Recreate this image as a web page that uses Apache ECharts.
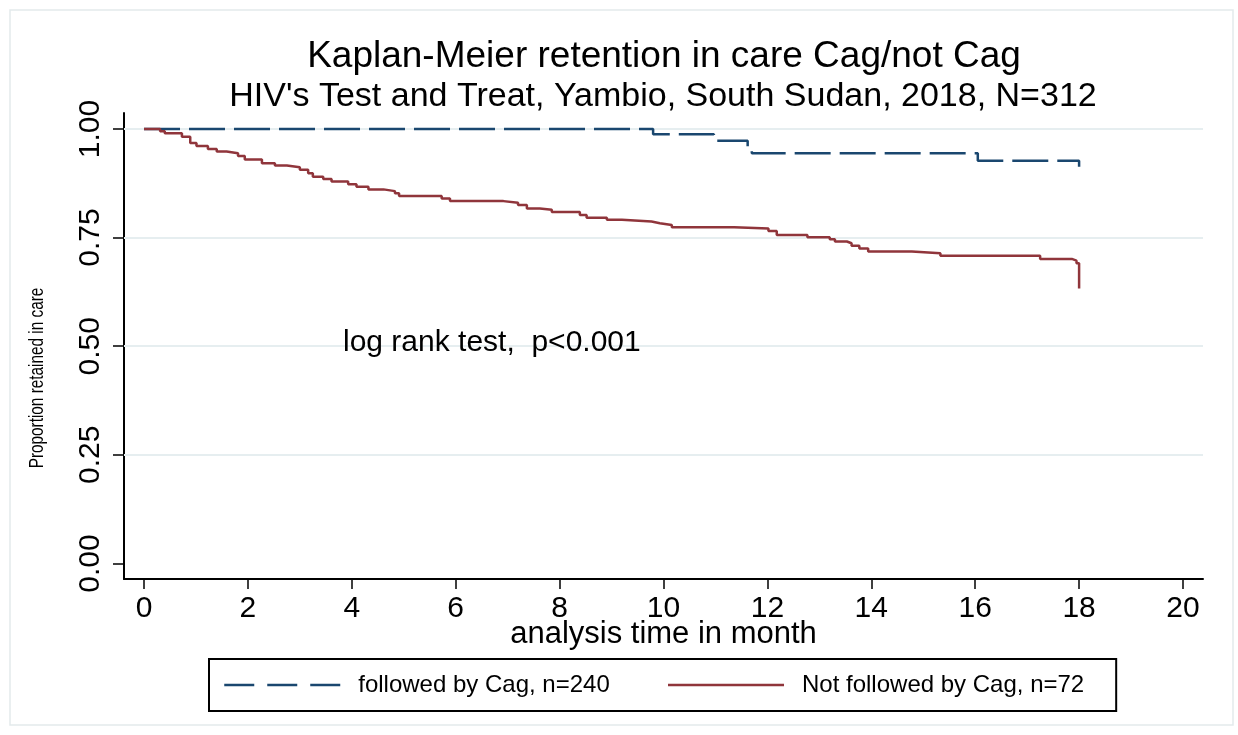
<!DOCTYPE html>
<html>
<head>
<meta charset="utf-8">
<script src="https://cdn.jsdelivr.net/npm/echarts@6/dist/echarts.min.js"></script>
<style>
  html, body { margin: 0; padding: 0; background: #ffffff; }
  #chart { width: 1238px; height: 735px; }
</style>
</head>
<body>
<div id="chart"></div>
<script>
// ---- data ----
const titleText = "Kaplan-Meier retention in care Cag/not Cag";
const subtitleText = "HIV's Test and Treat, Yambio, South Sudan, 2018, N=312";
const annotationText = "log rank test,  p<0.001";
const xAxisName = "analysis time in month";
const yAxisName = "Proportion retained in care";
const seriesNames = ["followed by Cag, n=240", "Not followed by Cag, n=72"];
const xTicks = [0, 2, 4, 6, 8, 10, 12, 14, 16, 18, 20];
const yTicks = [0, 0.25, 0.5, 0.75, 1];
const yGridValues = [0.25, 0.5, 0.75, 1];

// followed by Cag (blue, dashed)
const cagTime = [0, 9.80, 10.97, 11.62, 11.70, 16.05, 18.0];
const cagSurv = [1, 0.988, 0.973, 0.957, 0.944, 0.927, 0.913];

// not followed by Cag (red, solid)
const noCagTime = [0, 0.31, 0.40, 0.73, 0.89, 1.01, 1.23, 1.40, 1.59, 1.81, 1.94, 2.27, 2.52, 2.75,
  3.00, 3.16, 3.25, 3.45, 3.61, 3.93, 4.09, 4.32, 4.61, 4.83, 4.91, 5.73, 5.89, 6.92, 7.20, 7.37,
  7.62, 7.85, 8.39, 8.52, 8.91, 9.20, 9.77, 9.93, 10.16, 11.36, 12.02, 12.18, 12.77, 13.20, 13.30,
  13.53, 13.62, 13.77, 13.94, 14.78, 15.33, 17.25, 17.86, 17.95, 18.00];
const noCagSurv = [1, 0.995, 0.990, 0.982, 0.968, 0.961, 0.954, 0.948, 0.944, 0.938, 0.930, 0.921, 0.916, 0.912,
  0.906, 0.898, 0.890, 0.885, 0.879, 0.873, 0.867, 0.861, 0.857, 0.852, 0.846, 0.840, 0.834, 0.830, 0.825, 0.817,
  0.814, 0.809, 0.802, 0.796, 0.791, 0.787, 0.783, 0.779, 0.774, 0.771, 0.765, 0.756, 0.751, 0.746, 0.741,
  0.737, 0.731, 0.725, 0.718, 0.714, 0.708, 0.701, 0.697, 0.691, 0.633];

// ---- chart ----
const FONT = "'Liberation Sans', Arial, Helvetica, sans-serif";
const BLUE = '#1a476f';
const RED = '#90353b';

const zip = (a, b) => a.map((v, i) => [v, b[i]]);

const chart = echarts.init(document.getElementById('chart'), null, { renderer: 'canvas' });

const option = {
  backgroundColor: '#ffffff',
  animation: false,
  graphic: [
    {
      type: 'rect', z: 0,
      shape: { x: 10, y: 10, width: 1223, height: 715 },
      style: { fill: 'none', stroke: '#e3eaec', lineWidth: 1.5 },
      silent: true
    },
    {
      type: 'text', z: 10,
      x: 37, y: 378, rotation: Math.PI / 2, scaleX: 0.73,
      style: {
        text: yAxisName, font: "21px 'Liberation Sans', Arial, sans-serif",
        fill: '#000', align: 'center', verticalAlign: 'middle'
      },
      silent: true
    }
  ],
  title: [
    { text: titleText, left: 659, top: 33, textAlign: 'center',
      textStyle: { fontFamily: FONT, fontSize: 37, fontWeight: 'normal', color: '#000' } },
    { text: subtitleText, left: 658, top: 75, textAlign: 'center',
      textStyle: { fontFamily: FONT, fontSize: 34, fontWeight: 'normal', color: '#000' } },
    { text: annotationText, left: 338, top: 323,
      textStyle: { fontFamily: FONT, fontSize: 30, fontWeight: 'normal', color: '#000' } }
  ],
  legend: {
    show: true,
    left: 209, top: 659,
    orient: 'horizontal',
    itemWidth: 116, itemHeight: 24, itemGap: 57,
    padding: [14, 32, 14, 14],
    borderColor: '#000', borderWidth: 2,
    backgroundColor: '#fff',
    textStyle: { fontFamily: FONT, fontSize: 24, color: '#000', padding: [0, 0, 0, 13] },
    data: [
      { name: seriesNames[0], itemStyle: { opacity: 0 },
        lineStyle: { color: BLUE, width: 2.5, type: [30, 13], opacity: 1 } },
      { name: seriesNames[1], itemStyle: { opacity: 0 },
        lineStyle: { color: RED, width: 2.5, type: 'solid', opacity: 1 } }
    ]
  },
  grid: { left: 124, right: 35, top: 113, bottom: 156, containLabel: false },
  xAxis: {
    type: 'value', min: -0.385, max: 20.385,
    axisLine: { show: true, onZero: false, lineStyle: { color: '#000', width: 2 } },
    axisTick: { show: true, customValues: xTicks, length: 10, lineStyle: { color: '#000', width: 1.5 } },
    axisLabel: { customValues: xTicks, margin: 15, fontFamily: FONT, fontSize: 30, color: '#000' },
    splitLine: { show: false },
    name: xAxisName, nameLocation: 'middle', nameGap: 40, nameMoveOverlap: false,
    nameTextStyle: { fontFamily: FONT, fontSize: 31, color: '#000' }
  },
  yAxis: {
    type: 'value', min: -0.0357, max: 1.0368,
    axisLine: { show: true, onZero: false, lineStyle: { color: '#000', width: 2 } },
    axisTick: { show: true, customValues: yTicks, length: 11, lineStyle: { color: '#000', width: 1.5 } },
    axisLabel: { customValues: yTicks, rotate: 90, margin: 18, fontFamily: FONT, fontSize: 30, color: '#000',
      formatter: v => v.toFixed(2) },
    splitLine: { show: false }
  },
  series: [
    {
      name: 'gridlines', type: 'line', data: [], silent: true, z: 1,
      markLine: {
        z: 1, silent: true, symbol: ['none', 'none'], label: { show: false },
        lineStyle: { color: '#e6eef0', width: 2, type: 'solid' },
        data: yGridValues.map(v => ({ yAxis: v }))
      }
    },
    {
      name: seriesNames[0], type: 'line', step: 'end', z: 10,
      data: zip(cagTime, cagSurv), showSymbol: false, symbol: 'none',
      lineStyle: { color: BLUE, width: 2.5, type: [36, 9] },
      itemStyle: { color: BLUE }
    },
    {
      name: seriesNames[1], type: 'line', step: 'end', z: 11,
      data: zip(noCagTime, noCagSurv), showSymbol: false, symbol: 'none',
      lineStyle: { color: RED, width: 2.5, type: 'solid' },
      itemStyle: { color: RED }
    }
  ]
};
chart.setOption(option);
</script>
</body>
</html>
